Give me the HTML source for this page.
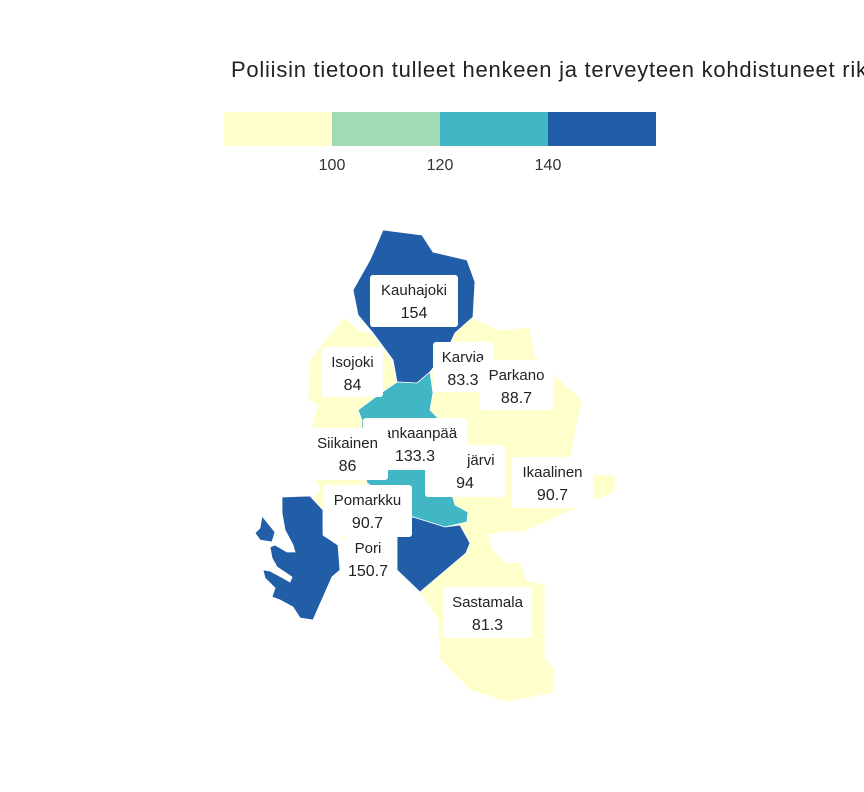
<!DOCTYPE html>
<html><head><meta charset="utf-8">
<style>
html,body{margin:0;padding:0;background:#fff;width:864px;height:792px;overflow:hidden}
svg{display:block;font-family:"Liberation Sans",sans-serif}
</style></head><body>
<svg id="chart" width="864" height="792" viewBox="0 0 864 792" xmlns="http://www.w3.org/2000/svg">
<text x="231" y="77" font-size="22" letter-spacing="0.75" fill="#222">Poliisin tietoon tulleet henkeen ja terveyteen kohdistuneet rikokset</text>
<g id="legend"></g>
<g id="map"></g>
<g id="labels"></g>
</svg>
<script>
const names=["Kauhajoki","Isojoki","Karvia","Parkano","Jämijärvi","Kankaanpää","Siikainen","Ikaalinen","Pomarkku","Pori","Sastamala"];
const values=[154,84,83.3,88.7,94,133.3,86,90.7,90.7,150.7,81.3];
const breaks=[100,120,140];
const colors=["#ffffcc","#a1dab4","#41b6c4","#225ea8"];
const legendTicks=["100","120","140"];

function color(v){let i=0;while(i<breaks.length&&v>=breaks[i])i++;return colors[i];}
const NS="http://www.w3.org/2000/svg";
function mk(t,a,p){const e=document.createElementNS(NS,t);for(const k in a)e.setAttribute(k,a[k]);p.appendChild(e);return e;}

const lg=document.getElementById('legend');
const lx0=224,lw=108;
colors.forEach((c,i)=>{const r=mk('rect',{x:lx0+i*lw,y:112,width:lw,height:34,fill:c},lg);

});
legendTicks.forEach((t,i)=>{const e=mk('text',{x:lx0+(i+1)*lw,y:170,'font-size':16,'text-anchor':'middle',fill:'#333'},lg);e.textContent=t;

});

const shapes={
 base:[[345,317],[358,330],[372,334],[392,360],[397,382],[430,372],[447,350],[465,315],[500,330],[530,327],[535,357],[582,400],[570,460],[598,475],[615,475],[615,492],[577,508],[523,532],[503,532],[488,535],[493,550],[507,563],[520,562],[527,580],[545,585],[545,657],[555,670],[553,693],[507,702],[470,690],[440,660],[438,620],[420,592],[397,570],[397,520],[340,540],[323,510],[312,497],[320,490],[308,465],[308,440],[318,405],[308,400],[310,360],[325,340]],
 Kauhajoki:[[383,230],[422,235],[433,252],[467,260],[475,282],[473,317],[455,333],[447,350],[430,372],[417,383],[397,382],[393,360],[373,333],[358,315],[353,290],[370,260]],
 Kankaanpää:[[397,382],[417,383],[430,372],[433,393],[430,410],[440,420],[445,470],[455,505],[468,512],[467,522],[445,527],[413,517],[400,507],[367,483],[362,460],[362,420],[358,410],[378,395]],
 Pori:[[282,497],[310,496],[323,510],[323,535],[338,545],[340,570],[332,577],[313,620],[300,618],[293,607],[280,600],[272,597],[275,588],[265,578],[263,570],[270,571],[283,578],[290,582],[292,577],[277,567],[272,558],[270,547],[275,545],[287,552],[295,552],[293,545],[285,530],[282,513]],
 PoriIsland:[[262,516],[275,532],[272,542],[260,540],[255,533],[260,528]],
 PoriEast:[[413,517],[445,527],[460,525],[470,543],[466,553],[420,592],[397,570],[397,520]]
};
const map=document.getElementById('map');
function poly(pts,fill,name){const p=mk('polygon',{points:pts.map(q=>q.join(',')).join(' '),fill:fill,stroke:'#fff','stroke-width':0.8},map);

}
poly(shapes.base,color(values[names.indexOf("Sastamala")]),'region-yellow-municipalities');
poly(shapes.Kauhajoki,color(values[0]),'region-kauhajoki');
poly(shapes.Kankaanpää,color(values[5]),'region-kankaanpaa');
poly(shapes.Pori,color(values[9]),'region-pori');
poly(shapes.PoriIsland,color(values[9]),'region-pori-island');
poly(shapes.PoriEast,color(values[9]),'region-pori-east');

const boxes={Kauhajoki:[370,275,88,52],Isojoki:[322,347,61,50],"Jämijärvi":[425,445,80,52],"Kankaanpää":[363,418,104,52],Siikainen:[307,428,81,52],Karvia:[433,342,60,50],Parkano:[480,360,73,50],Ikaalinen:[512,457,81,51],Pomarkku:[323,485,89,52],Pori:null,Sastamala:[443,587,89,51]};
const order=["Kauhajoki","Isojoki","Jämijärvi","Kankaanpää","Siikainen","Karvia","Parkano","Ikaalinen","Pomarkku","Pori","Sastamala"];
const lab=document.getElementById('labels');
order.forEach(n=>{
 const i=names.indexOf(n);const b=boxes[n];
 const g=mk('g',{},lab);
 
 
 let cx,ty;
 if(b){mk('rect',{x:b[0],y:b[1],width:b[2],height:b[3],rx:3,fill:'#fff'},g);cx=b[0]+b[2]/2;ty=b[1]+20;}
 else{cx=368;ty=553;}
 const t1=mk('text',{x:cx,y:ty,'font-size':15,'text-anchor':'middle',fill:'#222'},g);t1.textContent=n;
 const t2=mk('text',{x:cx,y:ty+23,'font-size':16,'text-anchor':'middle',fill:'#222'},g);t2.textContent=String(values[i]);
});
</script>
</body></html>
